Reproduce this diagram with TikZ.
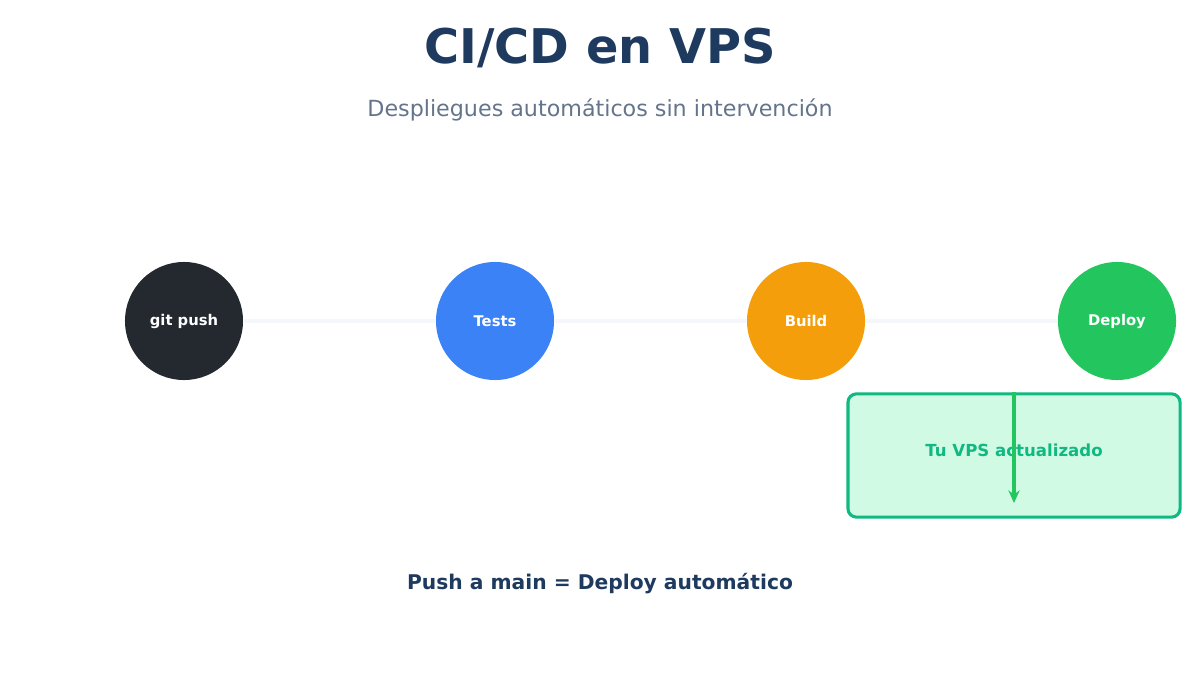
\documentclass[tikz,border=0pt]{standalone}
\usepackage{fontspec}
\setmainfont{DejaVu Sans}
\usetikzlibrary{arrows.meta,positioning}
\definecolor{navy}{HTML}{1E3A5F}
\definecolor{slate}{HTML}{64748B}
\definecolor{gitdark}{HTML}{24292F}
\definecolor{testblue}{HTML}{3B82F6}
\definecolor{buildorange}{HTML}{F59E0B}
\definecolor{deploygreen}{HTML}{22C55E}
\definecolor{emerald}{HTML}{10B981}
\definecolor{mint}{HTML}{D1FAE5}
\definecolor{track}{HTML}{F5F7FA}
\begin{document}
\begin{tikzpicture}[x=0.025cm,y=-0.025cm,
  stage/.style={circle,minimum size=2.95cm,inner sep=0pt,text=white,font=\fontsize{10.5}{12}\selectfont\bfseries},
  link/.style={track,line width=3.5pt}]
\useasboundingbox (0,0) rectangle (1200,675);
\node[text=navy,font=\fontsize{34}{40}\selectfont\bfseries] (title) at (600,48) {CI/CD en VPS};
\node[text=slate,font=\fontsize{15.8}{19}\selectfont] (sub) at (600,110) {Despliegues automáticos sin intervención};
\node[stage,fill=gitdark] (push) at (184,321) {git push};
\node[stage,fill=testblue] (tests) at (495,321) {Tests};
\node[stage,fill=buildorange] (build) at (806,321) {Build};
\node[stage,fill=deploygreen] (deploy) at (1117,321) {Deploy};
\foreach \a/\b in {push/tests,tests/build,build/deploy} { \draw[link] (\a) -- (\b); }
\node[draw=emerald,fill=mint,line width=2.2pt,rounded corners=6pt,minimum width=8.3cm,minimum height=3.08cm] (vps) at (1014,455.5) {};
\node[text=emerald,font=\fontsize{11.8}{14}\selectfont\bfseries] (vpslabel) at (1014,450) {Tu VPS actualizado};
\coordinate (vpsend) at (1014,503);
\draw[-{Stealth[length=9pt,width=8pt]},deploygreen,line width=2.2pt] (vps.north) -- (vpsend);
\node[text=navy,font=\fontsize{14.4}{17}\selectfont\bfseries] (motto) at (600,584) {Push a main = Deploy automático};
\end{tikzpicture}
\end{document}
